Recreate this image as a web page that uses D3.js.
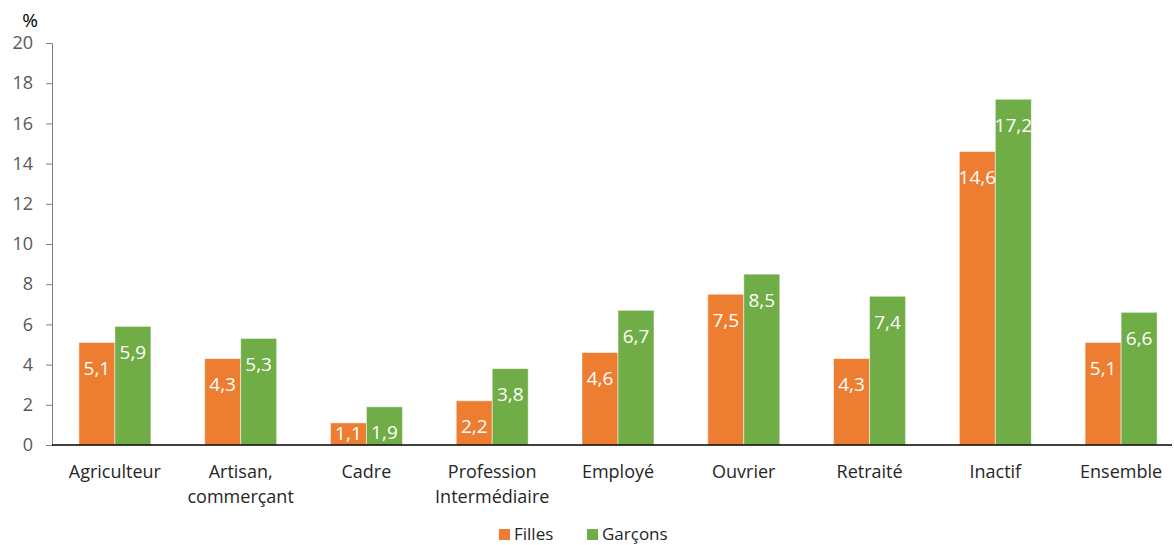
<!DOCTYPE html>
<html>
<head>
<meta charset="utf-8">
<script src="https://d3js.org/d3.v7.min.js"></script>
<style>
  body { margin: 0; background: #fff; }
  text { font-family: "Open Sans", "Noto Sans", sans-serif; }
</style>
</head>
<body>
<div id="chart"></div>
<script>
// categories (multi-line labels split on |)
var categories = ["Agriculteur", "Artisan,|commerçant", "Cadre", "Profession|Intermédiaire",
                  "Employé", "Ouvrier", "Retraité", "Inactif", "Ensemble"];
var filles  = [5.1, 4.3, 1.1, 2.2, 4.6, 7.5, 4.3, 14.6, 5.1];
var garcons = [5.9, 5.3, 1.9, 3.8, 6.7, 8.5, 7.4, 17.2, 6.6];
var seriesNames = ["Filles", "Garçons"];
var yTicks = [0, 2, 4, 6, 8, 10, 12, 14, 16, 18, 20];

var colors = ["#ED7D31", "#70AD47"];
var W = 1174, H = 545;
var plotLeft = 52, plotRight = 1172, plotTop = 43, plotBottom = 445;

var svg = d3.select("#chart").append("svg")
  .attr("width", W).attr("height", H);

// bands run slightly past the visible axis end, as in the original
var x = d3.scaleBand().domain(d3.range(categories.length)).range([plotLeft, 1184]);
var y = d3.scaleLinear().domain([0, 20]).range([plotBottom, plotTop]);
var bw = 36;

// y axis
var yAxis = svg.append("g")
  .attr("transform", "translate(" + plotLeft + ",0)")
  .call(d3.axisLeft(y).tickValues(yTicks).tickSize(6).tickPadding(13));
yAxis.select(".domain").attr("stroke", "#7f7f7f");
yAxis.selectAll(".tick line").attr("stroke", "#7f7f7f");
yAxis.selectAll(".tick text")
  .attr("fill", "#595959")
  .style("font-size", "18px");

svg.append("text")
  .attr("x", 30).attr("y", 27)
  .attr("text-anchor", "middle")
  .style("font-size", "19px")
  .attr("fill", "#000")
  .text("%");

// bars
var data = [];
categories.forEach(function(c, i) {
  data.push({i: i, s: 0, v: filles[i]});
  data.push({i: i, s: 1, v: garcons[i]});
});

var g = svg.append("g");
g.selectAll("rect").data(data).enter().append("rect")
  .attr("x", function(d) { return x(d.i) + x.bandwidth() / 2 - bw + d.s * bw; })
  .attr("y", function(d) { return y(d.v); })
  .attr("width", bw)
  .attr("height", function(d) { return y(0) - y(d.v); })
  .attr("fill", function(d) { return colors[d.s]; })
  .attr("stroke", "rgba(255,255,255,0.5)")
  .attr("stroke-width", 1);

g.selectAll("text.lbl").data(data).enter().append("text")
  .attr("class", "lbl")
  .attr("x", function(d) { return x(d.i) + x.bandwidth() / 2 - bw / 2 + d.s * bw; })
  .attr("y", function(d) { return Math.min(y(d.v) + 26, y(0) - 12); })
  .attr("dy", "0.35em")
  .attr("text-anchor", "middle")
  .attr("fill", "#fff")
  .style("font-size", "19px")
  .style("font-weight", "500")
  .text(function(d) { return String(d.v).replace(".", ","); });

// baseline
svg.append("line")
  .attr("x1", plotLeft).attr("x2", plotRight)
  .attr("y1", y(0)).attr("y2", y(0))
  .attr("stroke", "#000").attr("stroke-width", 1.3);

// category labels
var cl = svg.append("g").selectAll("text").data(categories).enter().append("text")
  .attr("x", function(d, i) { return x(i) + x.bandwidth() / 2; })
  .attr("y", 478)
  .attr("text-anchor", "middle")
  .attr("fill", "#262626")
  .style("font-size", "18px");
cl.each(function(d) {
  var t = d3.select(this);
  d.split("|").forEach(function(line, k) {
    t.append("tspan")
      .attr("x", t.attr("x"))
      .attr("dy", k === 0 ? 0 : 25)
      .text(line);
  });
});

// legend
var legX = [499, 587];
seriesNames.forEach(function(n, k) {
  svg.append("rect")
    .attr("x", legX[k]).attr("y", 529)
    .attr("width", 11).attr("height", 11)
    .attr("fill", colors[k]);
  svg.append("text")
    .attr("x", legX[k] + 15).attr("y", 540)
    .attr("fill", "#262626")
    .style("font-size", "17px")
    .text(n);
});
</script>
</body>
</html>
